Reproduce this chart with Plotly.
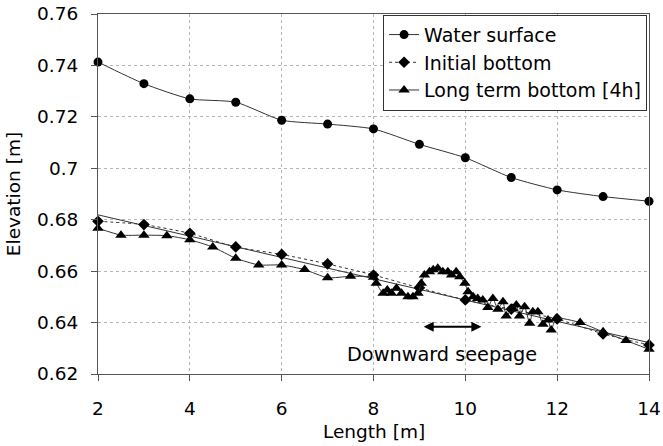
import plotly.graph_objects as go

# ---- data ----
ws_x = [2, 3, 4, 5, 6, 7, 8, 9, 10, 11, 12, 13, 14]
ws_y = [0.7413, 0.7329, 0.7270, 0.7257, 0.7187, 0.7172, 0.7153, 0.7093,
        0.7041, 0.6964, 0.6916, 0.6890, 0.6872]

ib_x = [2, 3, 4, 5, 6, 7, 8, 9, 10, 11, 12, 13, 14]
ib_y = [0.6794, 0.6781, 0.6747, 0.6694, 0.6665, 0.6628, 0.6585, 0.6535,
        0.6488, 0.6452, 0.6414, 0.6356, 0.6313]

lt_x = [2, 2.5, 3, 3.5, 4, 4.5, 5, 5.5, 6, 6.5, 7, 7.5, 8, 8.06, 8.21, 8.30,
        8.39, 8.5, 8.61, 8.75, 8.86, 8.97, 9.04, 9.11, 9.22, 9.30, 9.40, 9.51,
        9.62, 9.70, 9.80, 9.88, 9.99, 10.06, 10.17, 10.27, 10.38, 10.49, 10.6,
        10.71, 10.82, 10.89, 11.03, 11.11, 11.18, 11.29, 11.40, 11.47, 11.58,
        11.69, 11.80, 11.87, 11.98, 12.5, 13, 13.5, 14]
lt_y = [0.6767, 0.6740, 0.6740, 0.6738, 0.6722, 0.6694, 0.6650, 0.6624, 0.6624,
        0.6606, 0.6574, 0.6580, 0.6576, 0.6553, 0.6514, 0.6527, 0.6514, 0.6533,
        0.6514, 0.6500, 0.6500, 0.6514, 0.6553, 0.6585, 0.6598, 0.6605, 0.6611,
        0.6598, 0.6598, 0.6585, 0.6598, 0.6578, 0.6553, 0.6520, 0.6500, 0.6494,
        0.6488, 0.6459, 0.6494, 0.6452, 0.6481, 0.6426, 0.6455, 0.6468, 0.6426,
        0.6462, 0.6397, 0.6442, 0.6442, 0.6393, 0.6410, 0.6371, 0.6417, 0.6400,
        0.6364, 0.6330, 0.6296]

trend_x = [2, 14]
trend_y = [0.6819, 0.6322]

y_tickvals = [0.62, 0.64, 0.66, 0.68, 0.70, 0.72, 0.74, 0.76]
y_ticktext = ["0.62", "0.64", "0.66", "0.68", "0.7", "0.72", "0.74", "0.76"]
x_tickvals = [2, 4, 6, 8, 10, 12, 14]
x_ticktext = ["2", "4", "6", "8", "10", "12", "14"]

FONT = "DejaVu Sans, Liberation Sans, Arial, sans-serif"
LINE = "#333333"

fig = go.Figure()

fig.add_trace(go.Scatter(
    x=trend_x, y=trend_y, mode="lines", showlegend=False, hoverinfo="skip",
    line=dict(color=LINE, width=1), cliponaxis=False))

fig.add_trace(go.Scatter(
    x=ws_x, y=ws_y, name="Water surface", mode="lines+markers",
    line=dict(color=LINE, width=1, shape="spline", smoothing=0.6),
    marker=dict(symbol="circle", size=9, color="black"), cliponaxis=False))

fig.add_trace(go.Scatter(
    x=ib_x, y=ib_y, name="Initial bottom", mode="lines+markers",
    line=dict(color=LINE, width=1, dash="dot", shape="spline", smoothing=0.6),
    marker=dict(symbol="diamond", size=9, color="black"), cliponaxis=False))

fig.add_trace(go.Scatter(
    x=lt_x, y=lt_y, name="Long term bottom [4h]", mode="lines+markers",
    line=dict(color=LINE, width=1, shape="spline", smoothing=0.5),
    marker=dict(symbol="triangle-up", size=10, color="black"), cliponaxis=False))

axis_common = dict(
    showline=True, mirror=True, linecolor="#555555", linewidth=1,
    ticks="outside", ticklen=6, tickcolor="#555555", tickwidth=1,
    showgrid=True, gridcolor="#b5b5b5", griddash="dot", gridwidth=1,
    zeroline=False, tickfont=dict(family=FONT, size=18.5, color="black"),
)

fig.update_xaxes(
    range=[2, 14], tickvals=x_tickvals, ticktext=x_ticktext,
    ticklabelstandoff=12, **axis_common)
fig.update_yaxes(
    range=[0.62, 0.76], tickvals=y_tickvals, ticktext=y_ticktext,
    ticklabelstandoff=9,
    title=dict(text="Elevation [m]", font=dict(family=FONT, size=18.5, color="black"),
               standoff=11),
    **axis_common)

# x-axis title
fig.add_annotation(
    x=0.5, y=-0.1585, xref="paper", yref="paper", text="Length [m]",
    showarrow=False, yanchor="middle",
    font=dict(family=FONT, size=18.5, color="black"))

fig.add_annotation(
    x=9.5, y=0.6274, xref="x", yref="y", text="Downward seepage",
    showarrow=False, font=dict(family=FONT, size=19.3, color="black"))
fig.add_annotation(
    x=10.35, y=0.6384, ax=9.06, ay=0.6384, xref="x", yref="y",
    axref="x", ayref="y", text="", showarrow=True,
    arrowhead=2, startarrowhead=2, arrowside="end+start",
    arrowwidth=2, arrowsize=1, arrowcolor="black", startarrowsize=1)

fig.update_layout(
    width=663, height=446,
    margin=dict(l=97.5, r=14, t=14, b=72, autoexpand=False),
    paper_bgcolor="white", plot_bgcolor="white",
    font=dict(family=FONT, size=19, color="black"),
    legend=dict(
        x=0.9965, y=0.998, xanchor="right", yanchor="top",
        bordercolor="#333333", borderwidth=1, bgcolor="white",
        font=dict(family=FONT, size=19, color="black"),
        tracegroupgap=0, itemwidth=30),
    showlegend=True,
)

fig.write_html("out.html")
